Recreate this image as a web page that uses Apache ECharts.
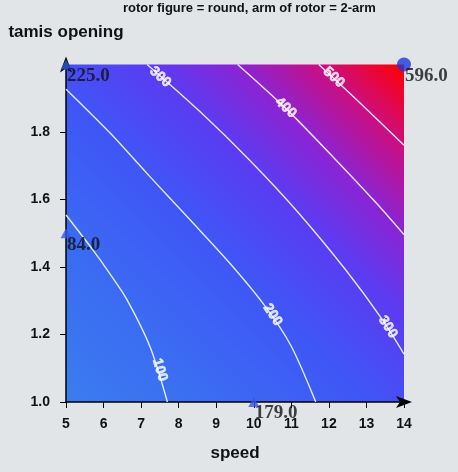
<!DOCTYPE html>
<html>
<head>
<meta charset="utf-8">
<script src="https://cdn.jsdelivr.net/npm/echarts@6/dist/echarts.min.js"></script>
<style>
html,body{margin:0;padding:0;background:#e1e5e8;}
#c{width:458px;height:472px;}
</style>
</head>
<body>
<div id="c"></div>
<script>
// ---- data ----
const chartTitle = 'rotor figure = round, arm of rotor = 2-arm';
const xName = 'speed';
const yName = 'tamis opening';

// observed design points
const pointSpeed   = [5, 14, 5, 10];
const pointOpening = [2.0, 2.0, 1.5, 1.0];
const pointValue   = [225.0, 596.0, 84.0, 179.0];

// contour levels and traced contour paths [speed, opening]
const contourLevels = [100, 200, 300, 400, 500];
const contour100 = [[5.0,1.554],[5.72,1.450],[6.175,1.379],[6.63,1.302],[7.24,1.163],[7.70,1.0]];
const contour200 = [[5.0,1.927],[6.175,1.797],[7.24,1.667],[8.31,1.539],[9.38,1.409],[10.26,1.290],[10.98,1.169],[11.65,1.0]];
const contour300 = [[7.16,2.0],[8.58,1.859],[9.91,1.714],[11.17,1.563],[12.45,1.391],[13.39,1.249],[14.0,1.142]];
const contour400 = [[9.57,2.0],[10.85,1.870],[12.13,1.724],[13.25,1.591],[14.0,1.496]];
const contour500 = [[11.73,2.0],[12.85,1.884],[14.0,1.761]];
const contourPaths = [contour100, contour200, contour300, contour400, contour500];

// contour label positions [speed, opening, level]
const contourLabelPos = [[7.50,1.095,100],[10.50,1.258,200],[13.57,1.222,300],[7.51,1.963,300],[10.85,1.872,400],[12.13,1.962,500]];

// ---- chart ----
const chart = echarts.init(document.getElementById('c'), null, {renderer:'canvas'});
const sans = 'Liberation Sans, Arial, sans-serif';

function labelSeries(rotations){
  return {
    type:'scatter', name:'contourLabels', symbolSize:0, z:5, silent:true,
    data: contourLabelPos.map((p,i)=>({value:p, label:{rotate: rotations ? rotations[i] : 0}})),
    label:{show:true, position:'inside', formatter:(d)=>String(d.value[2]),
      color:'#ffffff', fontFamily:sans, fontWeight:'bold', fontSize:14,
      textBorderColor:'#ffffff', textBorderWidth:0.6}
  };
}

const series = [];
contourPaths.forEach((path,i)=>{
  series.push({
    type:'line', name:'contour '+contourLevels[i], data:path, smooth:0.3,
    showSymbol:false, silent:true, z:3,
    lineStyle:{color:'rgba(240,248,255,0.92)', width:1.4}
  });
});
series.push(labelSeries(null));
series.push({
  type:'scatter', name:'points', z:6,
  data: pointSpeed.map((x,i)=>{
    const isMax = pointValue[i] === Math.max(...pointValue);
    return {
      value:[x, pointOpening[i], pointValue[i]],
      symbol: isMax ? 'circle' : 'triangle',
      symbolSize: isMax ? 14 : [11,10],
      itemStyle:{color: isMax ? '#2236d4' : '#3555e8'}
    };
  }),
  label:{show:true, position:'inside', align:'left', verticalAlign:'top', offset:[1,2],
    formatter:(d)=>d.value[2].toFixed(1), color:'#111111', fontWeight:'bold',
    fontFamily:'Liberation Serif, Times New Roman, serif', fontSize:19}
});

const option = {
  animation:false,
  backgroundColor:'#e1e5e8',
  title:{text:chartTitle, left:123, top:2, padding:0,
    textStyle:{fontFamily:sans, fontSize:13, fontWeight:'bold', color:'#111'}},
  grid:{left:66, top:64.5, right:54, bottom:70, show:true, borderWidth:0,
    backgroundColor:{type:'linear', x:0, y:1, x2:1, y2:0, colorStops:[
      {offset:0, color:'#3a7def'},
      {offset:0.22, color:'#3b6cf2'},
      {offset:0.45, color:'#3f56f6'},
      {offset:0.62, color:'#5a3cf2'},
      {offset:0.75, color:'#8a24d4'},
      {offset:0.87, color:'#c80f84'},
      {offset:0.94, color:'#e8063c'},
      {offset:1, color:'#ff0000'}]}},
  xAxis:{type:'value', min:5, max:14, interval:1, name:xName, nameLocation:'middle', nameGap:51,
    nameTextStyle:{fontFamily:sans, fontSize:17, fontWeight:'bold', color:'#111', verticalAlign:'middle'},
    axisLine:{show:true, onZero:false, symbol:['none','arrow'], symbolSize:[9,16], symbolOffset:[0,8],
      lineStyle:{color:'#000', width:1.5}},
    axisTick:{show:true, length:6, lineStyle:{color:'#000', width:1}},
    axisLabel:{margin:15, fontFamily:sans, fontSize:14, fontWeight:'bold', color:'#111'},
    splitLine:{show:false}},
  yAxis:{type:'value', min:1.0, max:2.0, interval:0.2, name:yName, nameLocation:'end', nameGap:32,
    nameTextStyle:{fontFamily:sans, fontSize:17, fontWeight:'bold', color:'#111', align:'center', verticalAlign:'middle'},
    axisLine:{show:true, onZero:false, symbol:['none','arrow'], symbolSize:[9,16], symbolOffset:[0,8],
      lineStyle:{color:'#000', width:1.5}},
    axisTick:{show:true, length:6, lineStyle:{color:'#000', width:1}},
    axisLabel:{margin:16, showMaxLabel:false, fontFamily:sans, fontSize:14, fontWeight:'bold', color:'#111',
      formatter:(v)=>v.toFixed(1)},
    splitLine:{show:false}},
  series: series
};
chart.setOption(option);

// orient contour labels along their contour, measured in pixel space
const rotations = contourLabelPos.map((p)=>{
  const path = contourPaths[contourLevels.indexOf(p[2])];
  let best = 0, bd = Infinity;
  for (let k=0; k<path.length-1; k++){
    const mx=(path[k][0]+path[k+1][0])/2, my=(path[k][1]+path[k+1][1])/2;
    const d=(mx-p[0])*(mx-p[0])+((my-p[1])*9)*((my-p[1])*9);
    if (d<bd){bd=d; best=k;}
  }
  const a = chart.convertToPixel({gridIndex:0}, path[best]);
  const b = chart.convertToPixel({gridIndex:0}, path[best+1]);
  return -Math.atan2(b[1]-a[1], b[0]-a[0]) * 180 / Math.PI;
});
series[contourPaths.length] = labelSeries(rotations);
chart.setOption({series: series});
</script>
</body>
</html>
